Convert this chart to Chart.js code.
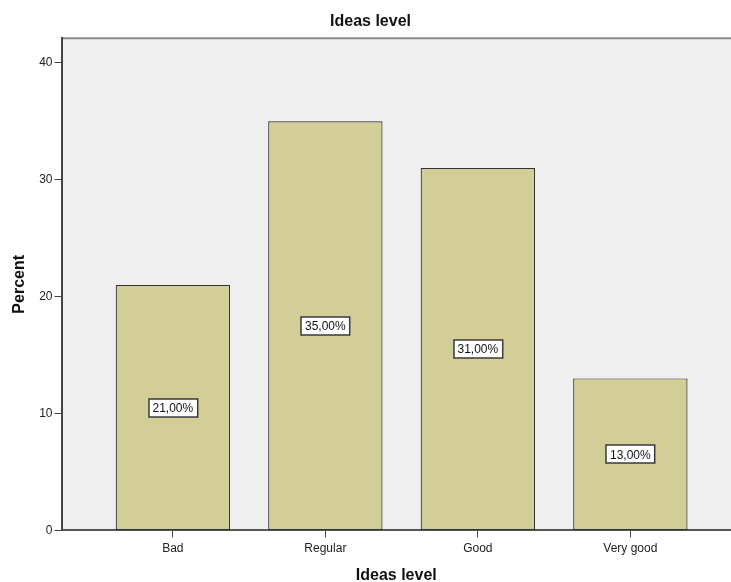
<!DOCTYPE html>
<html>
<head>
<meta charset="utf-8">
<script src="https://cdn.jsdelivr.net/npm/chart.js@4.4.0/dist/chart.umd.min.js"></script>
<style>
  html, body { margin: 0; padding: 0; background: #fff; overflow: hidden; }
  #wrap { width: 731px; height: 582px; }
</style>
</head>
<body>
<div id="wrap"><canvas id="c" width="731" height="582"></canvas></div>
<script>
const categories = ['Bad', 'Regular', 'Good', 'Very good'];
const percents = [21, 35, 31, 13];
const yTicks = [0, 10, 20, 30, 40];

const FONT = '"Liberation Sans", Arial, sans-serif';

// Light grey plot background with a top frame line
const plotBackground = {
  id: 'plotBackground',
  beforeDraw(chart) {
    const { ctx, chartArea: a } = chart;
    ctx.save();
    ctx.fillStyle = '#EFEFEF';
    ctx.fillRect(a.left, a.top, a.right - a.left, a.bottom - a.top);
    ctx.strokeStyle = '#8C8C8C';
    ctx.lineWidth = 2;
    ctx.beginPath();
    ctx.moveTo(a.left, a.top);
    ctx.lineTo(a.right, a.top);
    ctx.stroke();
    ctx.restore();
  }
};

// Boxed percentage labels at the middle of each bar
const valueBoxes = {
  id: 'valueBoxes',
  afterDatasetsDraw(chart) {
    const { ctx } = chart;
    const xs = chart.scales.x, ys = chart.scales.y;
    ctx.save();
    ctx.font = '12px ' + FONT;
    ctx.textAlign = 'center';
    ctx.textBaseline = 'middle';
    percents.forEach((v, i) => {
      const text = v.toFixed(2).replace('.', ',') + '%';
      const cx = xs.getPixelForValue(i);
      const cy = ys.getPixelForValue(v / 2);
      const w = ctx.measureText(text).width + 8;
      const h = 18;
      const left = Math.round(cx - w / 2);
      const top = Math.round(cy - h / 2);
      ctx.fillStyle = '#FFFFFF';
      ctx.fillRect(left, top, w, h);
      ctx.strokeStyle = '#3A3A3A';
      ctx.lineWidth = 1.5;
      ctx.strokeRect(left, top, w, h);
      ctx.fillStyle = '#111';
      ctx.fillText(text, cx, cy + 1);
    });
    ctx.restore();
  }
};

new Chart(document.getElementById('c'), {
  type: 'bar',
  data: {
    datasets: [{
      data: percents.map((v, i) => ({ x: i, y: v })),
      backgroundColor: '#D3CE98',
      borderColor: '#333333',
      borderWidth: 1.2,
      borderSkipped: false,
      categoryPercentage: 0.75,
      barPercentage: 1
    }]
  },
  options: {
    responsive: false,
    animation: false,
    layout: { padding: { top: 8, right: 0, bottom: -3, left: 10 } },
    plugins: {
      legend: { display: false },
      tooltip: { enabled: false },
      title: {
        display: true,
        text: 'Ideas level',
        color: '#111',
        font: { family: FONT, size: 16, weight: 'bold' },
        padding: { top: 4, bottom: 7 }
      }
    },
    scales: {
      x: {
        type: 'linear',
        offset: false,
        min: -0.73,
        max: 3.66,
        afterBuildTicks(scale) {
          scale.ticks = categories.map((_, i) => ({ value: i }));
        },
        ticks: {
          callback: (v) => categories[v],
          color: '#222',
          font: { family: FONT, size: 12 },
          padding: 4,
          maxRotation: 0,
          autoSkip: false
        },
        grid: {
          offset: false,
          drawOnChartArea: false,
          drawTicks: true,
          tickLength: 7,
          color: '#444'
        },
        border: { display: true, color: '#555', width: 2 },
        title: {
          display: true,
          text: 'Ideas level',
          color: '#111',
          font: { family: FONT, size: 16, weight: 'bold' },
          padding: { top: 6, bottom: 0 }
        }
      },
      y: {
        min: 0,
        max: 42.1,
        afterBuildTicks(scale) {
          scale.ticks = yTicks.map(v => ({ value: v }));
        },
        ticks: {
          color: '#222',
          font: { family: FONT, size: 12 },
          padding: 2
        },
        grid: {
          drawOnChartArea: false,
          drawTicks: true,
          tickLength: 7,
          color: '#444'
        },
        border: { display: true, color: '#444', width: 2 },
        title: {
          display: true,
          text: 'Percent',
          color: '#111',
          font: { family: FONT, size: 16, weight: 'bold' },
          padding: { top: 0, bottom: 8 }
        }
      }
    }
  },
  plugins: [plotBackground, valueBoxes]
});
</script>
</body>
</html>
